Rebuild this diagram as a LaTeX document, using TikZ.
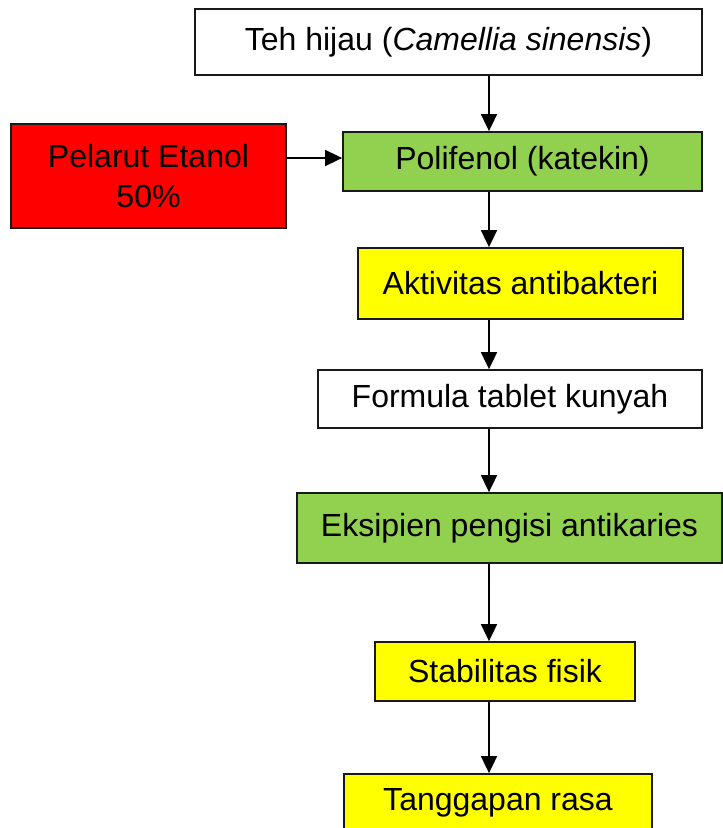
\documentclass[tikz,border=0pt]{standalone}
\usepackage{fontspec}
\setmainfont{Liberation Sans}
\usetikzlibrary{arrows.meta}
\usetikzlibrary{positioning}
\definecolor{boxred}{HTML}{FF0000}
\definecolor{boxgreen}{HTML}{92D050}
\definecolor{boxyellow}{HTML}{FFFF00}

\begin{document}
\begin{tikzpicture}[x=1pt, y=-1pt,
        flowbox/.style={draw=black!90, line width=1.8pt, inner sep=0pt, align=center,
          font=\fontsize{32}{40}\selectfont},
        flowarrow/.style={-{Triangle[length=17pt, width=16pt]}, line width=1.8pt}]
        \useasboundingbox (0, 0) rectangle (723, 828);
        \clip (0, 0) rectangle (723, 828);
        % boxes
        \node[flowbox, fill=white, minimum width=507pt, minimum height=66pt] (teh) at (448.5, 42) {Teh hijau (\textit{Camellia sinensis})};
        \node[flowbox, fill=boxred, minimum width=275pt, minimum height=104pt] (pelarut) at (148.5, 176) {Pelarut Etanol\\50\%};
        \node[flowbox, fill=boxgreen, minimum width=359pt, minimum height=59pt] (polifenol) at (522.5, 161.5) {Polifenol (katekin)};
        \node[flowbox, fill=boxyellow, minimum width=325pt, minimum height=71pt] (aktivitas) at (520.5, 283.5) {Aktivitas antibakteri};
        \node[flowbox, fill=white, minimum width=384pt, minimum height=58pt] (formula) at (510, 399) {Formula tablet kunyah};
        \node[flowbox, fill=boxgreen, minimum width=425pt, minimum height=70pt] (eksipien) at (509.5, 528) {Eksipien pengisi antikaries};
        \node[flowbox, fill=boxyellow, minimum width=260pt, minimum height=59pt] (stabilitas) at (505, 671.5) {Stabilitas fisik};
        \node[flowbox, fill=boxyellow, minimum width=308pt, minimum height=58pt] (tanggapan) at (498, 803) {Tanggapan rasa};
        % connectors
        \coordinate (spine) at (489, 0);
        \coordinate (feed) at (0, 158);
        \draw[flowarrow] (teh.south -| spine) -- (polifenol.north -| spine);
        \draw[flowarrow] (pelarut.east |- feed) -- (polifenol.west |- feed);
        \draw[flowarrow] (polifenol.south -| spine) -- (aktivitas.north -| spine);
        \draw[flowarrow] (aktivitas.south -| spine) -- (formula.north -| spine);
        \draw[flowarrow] (formula.south -| spine) -- (eksipien.north -| spine);
        \draw[flowarrow] (eksipien.south -| spine) -- (stabilitas.north -| spine);
        \draw[flowarrow] (stabilitas.south -| spine) -- (tanggapan.north -| spine);
      \end{tikzpicture}
\end{document}
